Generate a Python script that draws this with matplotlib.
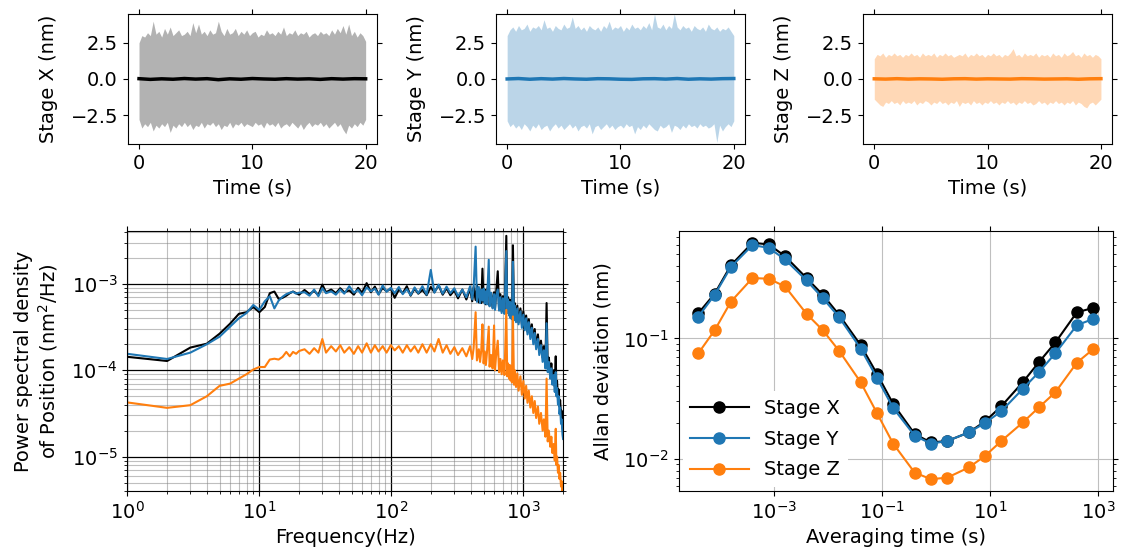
import numpy as np
import matplotlib
matplotlib.use("Agg")
import matplotlib.pyplot as plt
from matplotlib.ticker import NullLocator

plt.rcParams['font.size'] = 14

# ---- time traces: envelope of the raw signal, every 0.25 s ----
t_env = np.arange(0, 20.01, 0.25)
x_upper = [2.5, 3.0, 2.9, 3.2, 3.0, 4.0, 3.1, 3.3, 2.9, 3.5, 3.1, 3.6, 3.0, 3.2, 3.4, 3.0,
           3.1, 3.3, 3.0, 3.9, 3.2, 3.8, 3.1, 3.3, 3.0, 3.4, 3.1, 3.2, 4.0, 3.3, 3.0, 3.5,
           3.1, 3.2, 3.5, 3.0, 3.3, 3.1, 3.4, 3.0, 3.2, 3.3, 2.9, 3.1, 3.0, 3.4, 3.1, 3.2,
           3.0, 3.3, 3.1, 3.6, 3.0, 3.2, 3.1, 3.4, 3.0, 3.2, 3.1, 3.3, 2.9, 3.1, 3.2, 3.0,
           3.3, 3.1, 3.2, 3.0, 3.4, 3.1, 3.5, 3.2, 3.7, 3.1, 3.8, 3.0, 3.3, 2.9, 3.2, 3.0,
           2.6]
x_lower = [-2.8, -3.4, -3.1, -3.3, -3.0, -3.6, -3.2, -3.4, -3.1, -3.3, -3.0, -3.7, -3.2, -3.4, -3.1, -3.3,
           -3.0, -3.3, -3.1, -3.5, -3.2, -3.3, -3.0, -3.4, -3.1, -3.2, -3.0, -3.3, -3.1, -3.5, -3.2, -3.3,
           -3.0, -3.4, -3.1, -3.2, -3.0, -3.3, -3.1, -3.2, -3.3, -3.0, -3.2, -3.1, -3.4, -3.0, -3.2, -3.1,
           -3.3, -3.0, -3.4, -3.2, -3.1, -3.3, -3.0, -3.2, -3.4, -3.1, -3.5, -3.2, -3.0, -3.3, -3.1, -3.2,
           -3.0, -3.3, -3.1, -3.4, -3.2, -3.0, -3.3, -3.1, -3.5, -3.8, -3.2, -3.4, -3.1, -3.3, -3.0, -3.2,
           -2.8]
y_upper = [3.0, 3.4, 3.6, 3.3, 3.7, 3.4, 3.5, 3.8, 3.3, 3.6, 3.5, 3.7, 3.4, 4.1, 3.5, 3.6,
           3.3, 3.7, 3.5, 3.4, 3.8, 3.5, 3.6, 4.3, 3.5, 3.7, 3.4, 3.6, 3.3, 3.7, 3.5, 3.4,
           3.6, 3.3, 3.7, 3.5, 4.0, 3.4, 3.6, 3.5, 3.7, 3.3, 3.6, 3.4, 3.8, 3.5, 3.6, 3.4,
           3.7, 3.5, 3.9, 3.4, 4.5, 3.6, 3.5, 3.8, 3.4, 3.7, 3.5, 4.5, 3.6, 3.4, 3.7, 3.5,
           3.6, 3.3, 3.7, 3.5, 3.4, 3.6, 3.3, 3.8, 3.5, 3.4, 3.6, 3.3, 3.5, 3.4, 3.6, 3.3,
           3.0]
y_lower = [-2.9, -3.3, -3.1, -3.4, -3.2, -3.5, -3.1, -3.3, -3.6, -3.2, -3.4, -3.1, -3.5, -3.3, -3.2, -3.6,
           -3.3, -3.1, -3.4, -3.2, -3.5, -3.3, -3.1, -3.4, -3.2, -3.6, -3.3, -3.2, -3.4, -3.1, -3.8, -3.3,
           -3.2, -3.5, -3.3, -3.1, -3.4, -3.2, -3.5, -3.3, -3.2, -3.4, -3.1, -3.3, -3.2, -3.8, -3.3, -3.5,
           -3.2, -3.4, -3.1, -3.3, -3.5, -3.6, -3.2, -3.4, -3.3, -3.1, -3.7, -3.2, -3.3, -3.5, -3.2, -3.4,
           -3.1, -3.3, -3.2, -3.4, -3.1, -3.3, -3.2, -3.4, -3.3, -3.1, -4.4, -3.2, -3.6, -3.3, -3.1, -3.3,
           -2.9]
z_upper = [1.4, 1.7, 1.6, 1.8, 1.5, 1.7, 1.6, 1.8, 1.6, 1.7, 1.5, 1.7, 1.6, 1.8, 1.6, 1.7,
           1.5, 1.8, 1.6, 1.7, 1.6, 1.8, 1.5, 1.7, 1.6, 1.8, 1.6, 1.7, 1.5, 1.6, 1.7, 1.6,
           1.8, 1.5, 1.7, 1.6, 1.8, 1.6, 1.7, 1.5, 1.7, 1.6, 1.8, 1.6, 1.7, 1.5, 1.7, 1.6,
           1.8, 2.1, 1.6, 1.7, 1.5, 1.8, 1.6, 1.7, 1.6, 1.8, 1.5, 1.7, 1.6, 1.7, 1.5, 1.8,
           1.6, 1.7, 1.5, 1.8, 1.6, 1.7, 1.9, 1.6, 1.7, 1.5, 1.8, 1.6, 1.7, 1.5, 1.7, 1.6,
           1.4]
z_lower = [-1.4, -1.6, -1.8, -1.9, -1.6, -1.7, -1.5, -1.7, -1.6, -1.8, -1.5, -1.7, -1.6, -1.7, -1.5, -1.8,
           -1.6, -1.7, -1.5, -1.6, -1.8, -1.6, -1.7, -1.5, -1.7, -1.6, -1.8, -1.6, -1.7, -1.5, -1.9, -1.6,
           -1.7, -1.6, -1.8, -1.5, -1.7, -1.6, -1.8, -1.6, -1.7, -1.5, -1.7, -1.6, -1.8, -1.6, -1.7, -1.5,
           -1.7, -1.6, -1.8, -1.6, -1.7, -1.5, -1.7, -1.6, -1.8, -1.7, -1.5, -1.7, -1.6, -1.8, -1.6, -1.7,
           -1.5, -1.7, -1.6, -1.8, -1.6, -1.7, -1.5, -1.8, -1.6, -1.7, -1.9, -2.0, -1.7, -1.6, -1.8, -1.6,
           -1.4]

# smoothed traces, every 1 s
t_mean = np.arange(0, 21, 1)
x_mean = [0.02, -0.03, 0.01, -0.02, 0.03, -0.01, 0.02, -0.05, 0.01, -0.02, 0.03,
          0.0, -0.02, 0.02, -0.01, 0.01, -0.03, 0.02, -0.01, 0.02, 0.01]
y_mean = [0.0, 0.03, -0.02, 0.02, -0.01, 0.03, 0.0, -0.02, 0.02, 0.01, -0.02,
          -0.03, 0.01, 0.02, -0.01, 0.03, -0.02, 0.01, -0.01, 0.02, 0.03]
z_mean = [0.01, -0.01, 0.02, -0.01, 0.01, 0.0, -0.02, 0.01, 0.02, -0.01, 0.01,
          0.0, -0.01, 0.02, 0.01, -0.01, 0.0, 0.01, -0.02, 0.01, 0.02]

# ---- PSD (values in 1e-4 nm^2/Hz) ----
freq = [1, 2, 3, 4, 5, 6, 7, 8, 9, 10, 11, 12, 13, 14, 15, 16, 17, 18, 19, 20,
        22, 24, 26, 28, 30, 32, 35, 38, 41, 44, 48, 52, 56, 60, 65, 70, 75, 80, 86, 92,
        99, 106, 114, 122, 131, 140, 150, 160, 172, 185, 199, 212, 228, 245, 262, 280,
        300, 320, 345, 370,
        395, 410, 420, 435, 445, 460, 470, 480, 490, 500,
        510, 520, 530, 547, 555, 570, 585, 600, 610, 620,
        640, 655, 670, 685, 700, 720, 743, 755, 765, 780,
        790, 800, 811, 820, 834, 850, 860, 880, 900, 920,
        950, 975, 1000, 1025, 1050, 1075, 1100, 1130, 1160, 1190,
        1220, 1250, 1290, 1320, 1360, 1400, 1430, 1470, 1500, 1530,
        1560, 1600, 1630, 1660, 1700, 1730, 1760, 1780, 1800, 1830,
        1850, 1880, 1900, 1930, 1950, 1980, 2000]
psd_x = [1.43, 1.28, 1.83, 2.03, 2.65, 3.46, 4.5, 4.7, 5.4, 4.7, 5.4, 7.8, 8.15, 6.7, 6.9, 7.3, 7.8, 8.15, 7.8, 7.5,
         8.5, 7.6, 8.3, 7.4, 9.8, 8.0, 8.6, 7.8, 8.9, 8.0, 8.4, 7.5, 9.0, 7.9, 10.2, 8.0, 9.3, 7.6, 9.0, 8.2,
         8.8, 6.9, 8.6, 7.8, 9.4, 7.3, 8.8, 7.7, 8.5, 7.4, 9.2, 8.0, 9.6, 7.5, 8.9, 7.4,
         8.4, 6.8, 8.6, 6.6,
         8.8, 6.3, 9.2, 6.5, 9.6, 6.1, 8.4, 6.0, 15.0, 6.2,
         8.6, 5.8, 8.0, 11.0, 5.6, 7.8, 5.3, 8.0, 5.2, 7.4,
         14.0, 5.0, 7.6, 4.8, 7.2, 4.6, 36.0, 4.8, 7.0, 4.4,
         6.6, 4.2, 6.4, 4.1, 28.0, 4.0, 6.0, 3.8, 5.6, 3.6,
         5.2, 3.4, 4.8, 3.1, 4.3, 2.8, 3.9, 2.5, 3.4, 2.2,
         3.0, 1.9, 2.6, 1.65, 2.2, 1.4, 1.9, 1.2, 6.0, 1.05,
         1.4, 0.9, 1.2, 0.78, 1.0, 0.65, 1.45, 0.6, 0.75, 0.48,
         0.6, 0.38, 0.45, 0.3, 0.34, 0.22, 0.2]
psd_y = [1.55, 1.35, 1.6, 2.0, 2.45, 3.2, 4.0, 4.6, 5.7, 5.0, 6.3, 7.2, 5.2, 6.4, 7.1, 7.6, 7.9, 8.1, 7.7, 7.9,
         8.0, 7.3, 8.6, 7.2, 8.9, 7.8, 8.2, 7.5, 8.6, 7.7, 9.4, 7.9, 8.5, 7.4, 9.1, 8.2, 8.8, 7.5, 9.6, 8.1,
         9.0, 7.8, 9.2, 7.6, 8.7, 7.4, 9.1, 7.8, 9.4, 7.5, 14.5, 7.9, 9.8, 7.7, 9.3, 7.8,
         8.9, 7.2, 8.6, 7.0,
         9.4, 6.6, 9.0, 27.0, 6.2, 9.2, 6.0, 8.6, 6.4, 8.8,
         5.9, 8.2, 5.8, 19.0, 5.5, 7.9, 5.2, 7.6, 5.0, 7.2,
         8.6, 4.9, 7.0, 4.6, 6.8, 4.5, 24.0, 4.6, 6.6, 4.3,
         6.2, 4.0, 6.0, 3.9, 18.0, 3.8, 5.6, 3.6, 5.2, 3.4,
         4.8, 3.1, 4.4, 2.9, 4.0, 2.6, 3.6, 2.3, 3.1, 2.0,
         2.7, 1.75, 2.3, 1.5, 1.95, 1.25, 1.7, 1.05, 3.5, 0.95,
         1.25, 0.8, 1.05, 0.68, 0.88, 0.56, 0.95, 0.5, 0.62, 0.4,
         0.5, 0.31, 0.37, 0.24, 0.27, 0.18, 0.16]
psd_z = [0.424, 0.367, 0.394, 0.50, 0.66, 0.70, 0.80, 0.90, 1.02, 1.09, 1.09, 1.33, 1.36, 1.33, 1.43, 1.63, 1.45, 1.63, 1.55, 1.67,
         1.75, 1.55, 1.8, 1.6, 2.3, 1.6, 1.9, 1.65, 1.95, 1.6, 1.85, 1.55, 1.9, 1.6, 2.05, 1.6, 1.95, 1.65, 1.9, 1.6,
         1.95, 1.7, 1.9, 1.6, 1.95, 1.65, 1.9, 1.6, 2.0, 1.6, 2.0, 1.65, 2.3, 1.6, 1.95, 1.55,
         1.85, 1.5, 1.8, 1.45,
         1.9, 1.35, 1.8, 4.7, 1.3, 1.75, 1.25, 1.7, 3.4, 1.2,
         1.65, 1.15, 1.6, 3.2, 1.1, 1.5, 1.05, 3.3, 1.0, 1.4,
         2.2, 0.95, 1.35, 0.9, 1.3, 0.88, 5.0, 0.85, 1.2, 0.8,
         1.15, 0.76, 1.1, 0.72, 4.2, 0.68, 1.0, 0.64, 0.92, 0.58,
         0.85, 0.52, 0.75, 0.47, 0.66, 0.42, 0.58, 0.37, 0.5, 0.32,
         0.44, 0.28, 0.38, 0.24, 0.32, 0.2, 0.27, 0.17, 0.8, 0.15,
         0.2, 0.13, 0.17, 0.11, 0.14, 0.09, 0.21, 0.08, 0.1, 0.065,
         0.08, 0.055, 0.065, 0.045, 0.052, 0.04, 0.045]

# ---- Allan deviation ----
tau = [4e-5, 8e-5, 1.6e-4, 4e-4, 8e-4, 1.6e-3, 4e-3, 8e-3, 1.6e-2, 4e-2, 8e-2, 0.16,
       0.4, 0.8, 1.6, 4, 8, 16, 40, 80, 160, 400, 800]
adev_x = [0.162, 0.235, 0.405, 0.622, 0.603, 0.481, 0.317, 0.230, 0.157, 0.088, 0.051, 0.0286,
          0.0161, 0.0137, 0.0141, 0.0166, 0.0205, 0.0274, 0.0434, 0.0638, 0.0926, 0.165, 0.179]
adev_y = [0.152, 0.230, 0.392, 0.595, 0.565, 0.452, 0.303, 0.216, 0.150, 0.0825, 0.0472, 0.0265,
          0.0156, 0.0134, 0.0141, 0.0166, 0.0199, 0.0249, 0.0382, 0.0527, 0.0754, 0.129, 0.145]
adev_z = [0.0754, 0.117, 0.202, 0.317, 0.313, 0.270, 0.160, 0.117, 0.0789, 0.0434, 0.0241, 0.0134,
          0.0077, 0.0068, 0.0070, 0.0085, 0.0106, 0.0141, 0.0201, 0.0269, 0.0358, 0.063, 0.0815]

fig = plt.figure(figsize=(11.21, 5.58), dpi=100)

top_axes = [fig.add_axes([0.1139, 0.742, 0.2224, 0.233]),
            fig.add_axes([0.4423, 0.742, 0.2224, 0.233]),
            fig.add_axes([0.7698, 0.742, 0.2224, 0.233])]
traces = [(x_upper, x_lower, x_mean, 'k', 'Stage X (nm)'),
          (y_upper, y_lower, y_mean, 'C0', 'Stage Y (nm)'),
          (z_upper, z_lower, z_mean, 'C1', 'Stage Z (nm)')]
for ax, (up, lo, mean, c, lab) in zip(top_axes, traces):
    ax.fill_between(t_env, lo, up, color=c, alpha=0.3, linewidth=0)
    ax.plot(t_mean, mean, color=c, lw=2.5)
    ax.set_xlim(-1, 21)
    ax.set_ylim(-4.5, 4.5)
    ax.set_yticks([-2.5, 0, 2.5])
    ax.set_xticks([0, 10, 20])
    ax.set_xlabel('Time (s)')
    ax.set_ylabel(lab, labelpad=9)
    ax.tick_params(direction='out', top=True, right=True)

# PSD
ax = fig.add_axes([0.1136, 0.1201, 0.3887, 0.466])
f = np.array(freq)
ax.loglog(f, np.array(psd_x) * 1e-4, color='k', lw=1.5)
ax.loglog(f, np.array(psd_y) * 1e-4, color='C0', lw=1.5)
ax.loglog(f, np.array(psd_z) * 1e-4, color='C1', lw=1.5)
ax.set_xlim(1, 2000)
ax.set_ylim(4e-6, 4.1e-3)
ax.grid(True, which='major', color='k', lw=0.9)
ax.grid(True, which='minor', color='0.5', lw=0.8, alpha=0.5)
ax.set_xlabel('Frequency(Hz)')
ax.set_ylabel('Power spectral density\nof Position (nm$^2$/Hz)', labelpad=8)
ax.tick_params(which='both', direction='out', top=True, right=True)

# Allan deviation
ax = fig.add_axes([0.6054, 0.1201, 0.3874, 0.466])
ax.loglog(tau, adev_x, 'o-', color='k', ms=8, lw=1.5, label='Stage X')
ax.loglog(tau, adev_y, 'o-', color='C0', ms=8, lw=1.5, label='Stage Y')
ax.loglog(tau, adev_z, 'o-', color='C1', ms=8, lw=1.5, label='Stage Z')
ax.set_xticks([1e-3, 1e-1, 1e1, 1e3])
ax.xaxis.set_minor_locator(NullLocator())
ax.grid(True, which='major', color='0.75')
ax.set_xlabel('Averaging time (s)')
ax.set_ylabel('Allan deviation (nm)', labelpad=8)
ax.tick_params(which='both', direction='out', top=True, right=True)
ax.legend(loc='lower left', framealpha=1, edgecolor='none', handlelength=3,
          labelspacing=0.6, borderaxespad=0.2)

fig.savefig('out.png', dpi=100)
